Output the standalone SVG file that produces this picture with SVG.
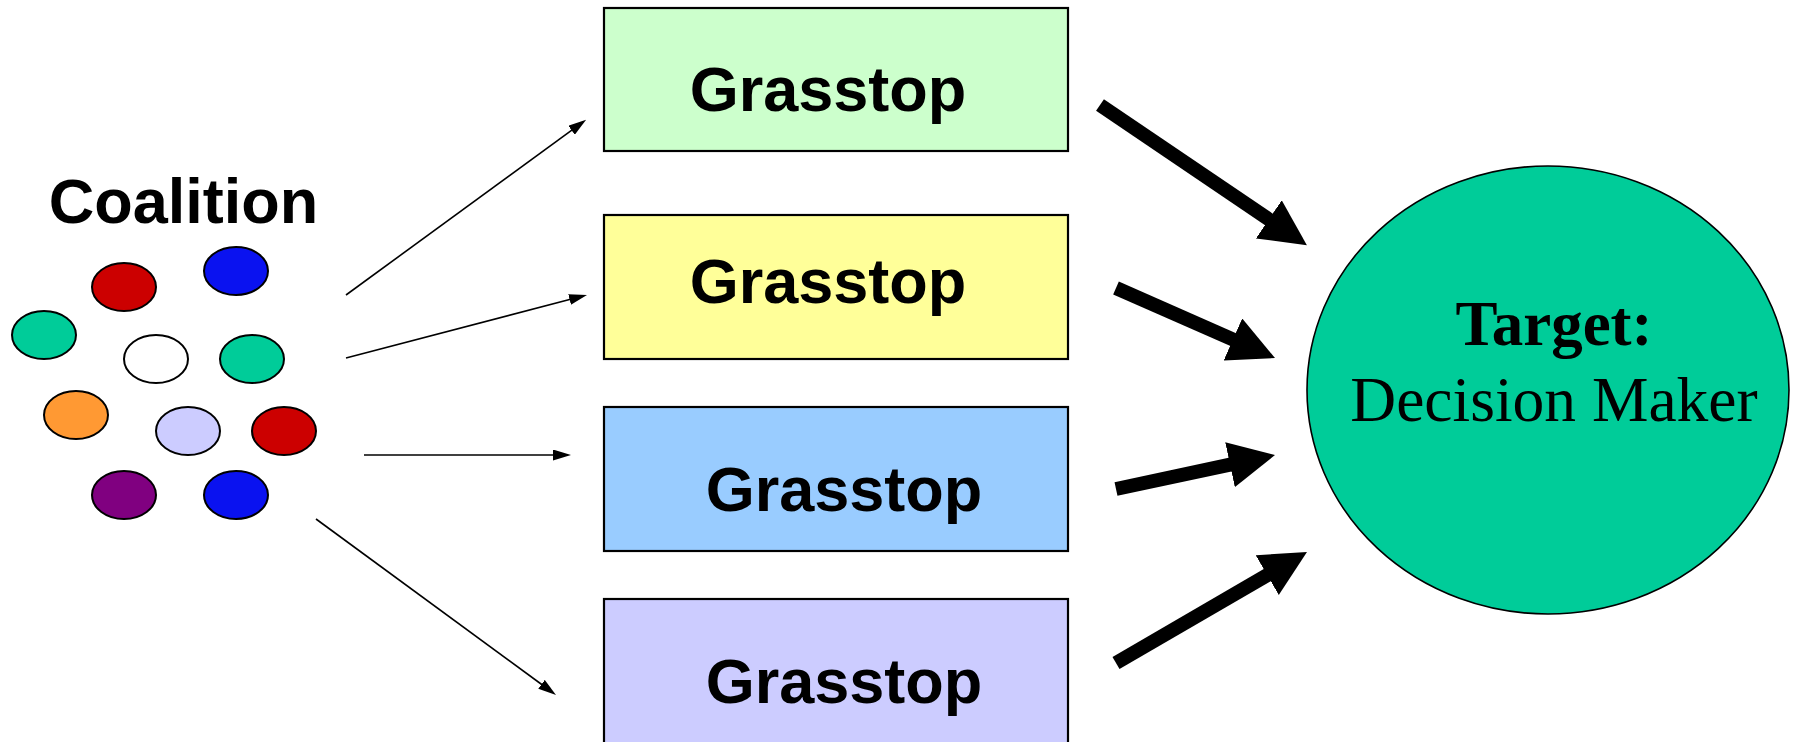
<svg xmlns="http://www.w3.org/2000/svg" width="1793" height="742" viewBox="0 0 1793 742">
<style>
.bg{fill:#ffffff}
.dot{stroke:#000;stroke-width:2}
.box{stroke:#000;stroke-width:2.2}
.gt{font-family:"Liberation Sans",Arial,sans-serif;font-weight:bold;font-size:63px;fill:#000;text-anchor:middle}
.thin{stroke:#000;stroke-width:1.6;fill:none}
.thick{stroke:#000;stroke-width:14;fill:none}
</style>
<defs>
<marker id="ah" markerUnits="userSpaceOnUse" markerWidth="18" markerHeight="11" refX="2" refY="5.5" orient="auto" viewBox="0 0 18 11">
<path d="M0,0 L18,5.5 L0,11 z" fill="#000"/>
</marker>
<marker id="bh" markerUnits="userSpaceOnUse" markerWidth="46" markerHeight="46" refX="6" refY="23" orient="auto" viewBox="0 0 46 46">
<path d="M0,0 L46,23 L0,46 z" fill="#000"/>
</marker>
</defs>
<rect class="bg" x="0" y="0" width="1793" height="742"/>

<g id="coalition">
<text x="183.5" y="223" font-family="'Liberation Sans',Arial,sans-serif" font-weight="bold" font-size="63" text-anchor="middle">Coalition</text>
<ellipse class="dot" cx="124" cy="287" rx="32" ry="24" fill="#CC0000"/>
<ellipse class="dot" cx="236" cy="271" rx="32" ry="24" fill="#0A12F0"/>
<ellipse class="dot" cx="44" cy="335" rx="32" ry="24" fill="#00CC99"/>
<ellipse class="dot" cx="156" cy="359" rx="32" ry="24" fill="#FFFFFF"/>
<ellipse class="dot" cx="252" cy="359" rx="32" ry="24" fill="#00CC99"/>
<ellipse class="dot" cx="76" cy="415" rx="32" ry="24" fill="#FF9933"/>
<ellipse class="dot" cx="188" cy="431" rx="32" ry="24" fill="#CCCCFF"/>
<ellipse class="dot" cx="284" cy="431" rx="32" ry="24" fill="#CC0000"/>
<ellipse class="dot" cx="124" cy="495" rx="32" ry="24" fill="#800080"/>
<ellipse class="dot" cx="236" cy="495" rx="32" ry="24" fill="#0A12F0"/>
</g>

<g id="grasstop1">
<rect class="box" x="604" y="8" width="464" height="143" fill="#CCFFCC"/>
<text class="gt" x="828" y="111">Grasstop</text>
</g>
<g id="grasstop2">
<rect class="box" x="604" y="215" width="464" height="144" fill="#FFFF99"/>
<text class="gt" x="828" y="303">Grasstop</text>
</g>
<g id="grasstop3">
<rect class="box" x="604" y="407" width="464" height="144" fill="#99CCFF"/>
<text class="gt" x="844" y="511">Grasstop</text>
</g>
<g id="grasstop4">
<rect class="box" x="604" y="599" width="464" height="146" fill="#CCCCFF"/>
<text class="gt" x="844" y="703">Grasstop</text>
</g>

<g id="target">
<ellipse cx="1548" cy="390" rx="241" ry="224" fill="#00CC99" stroke="#000" stroke-width="1.6"/>
<text x="1554" y="345" font-family="'Liberation Serif','Times New Roman',serif" font-weight="bold" font-size="63" text-anchor="middle">Target:</text>
<text x="1554" y="421" font-family="'Liberation Serif','Times New Roman',serif" font-size="63.5" text-anchor="middle">Decision Maker</text>
</g>

<g id="connectors">
<line class="thin" x1="346" y1="295" x2="573.2" y2="129.1" marker-end="url(#ah)"/>
<line class="thin" x1="346" y1="358" x2="571.5" y2="299" marker-end="url(#ah)"/>
<line class="thin" x1="364" y1="455" x2="555" y2="455" marker-end="url(#ah)"/>
<line class="thin" x1="316" y1="519" x2="543.1" y2="685.5" marker-end="url(#ah)"/>
<line class="thick" x1="1100" y1="105" x2="1273.8" y2="222.7" marker-end="url(#bh)"/>
<line class="thick" x1="1116" y1="288" x2="1238.4" y2="341.9" marker-end="url(#bh)"/>
<line class="thick" x1="1116" y1="489" x2="1235.9" y2="463.4" marker-end="url(#bh)"/>
<line class="thick" x1="1116" y1="663" x2="1272.4" y2="572.1" marker-end="url(#bh)"/>
</g>
</svg>
